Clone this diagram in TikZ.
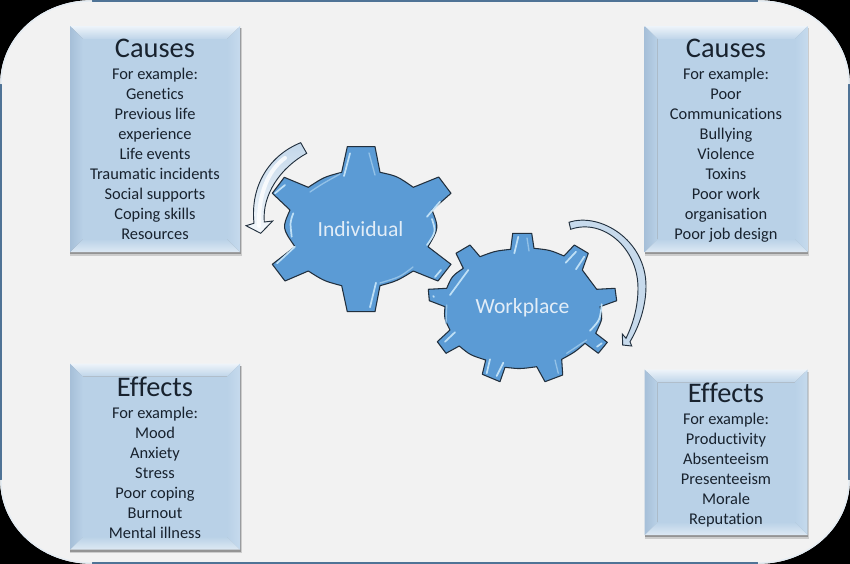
\documentclass[tikz,border=0pt]{standalone}
\usepackage{fontspec}
\setmainfont{Carlito}[Ligatures=NoCommon]
\definecolor{bgc}{HTML}{F2F2F2}
\definecolor{framec}{HTML}{4F7396}
\definecolor{arcc}{HTML}{E4ECF3}
\definecolor{gearc}{HTML}{5B9BD5}
\definecolor{gearline}{HTML}{22303E}
\definecolor{glint}{HTML}{BFE0F6}
\definecolor{boxc}{HTML}{B9D1E7}
\definecolor{boxl}{HTML}{A6BFD8}
\definecolor{boxr}{HTML}{C6DAED}
\definecolor{boxt}{HTML}{EEF4FA}
\definecolor{boxb}{HTML}{DDE9F4}
\definecolor{inkc}{HTML}{18222E}
\definecolor{gtext}{HTML}{E2EDF7}
\tikzset{
  frameline/.style={draw=framec,line width=1.4pt},
  framearc/.style={draw=arcc,line width=1pt},
  heading/.style={font=\fontsize{21.3}{25}\selectfont,text=inkc,anchor=center,inner sep=0pt},
  bodytext/.style={font=\fontsize{12.3}{15}\selectfont,text=inkc,align=center,anchor=north,inner sep=0pt},
  gearbody/.style={fill=gearc,draw=gearline,line width=0.8pt,line join=round},
  geartext/.style={font=\fontsize{16.2}{19}\selectfont,text=gtext,inner sep=0pt},
  glintline/.style={draw=glint,line width=1.3pt,line cap=round},
  softglint/.style={draw=glint!55!gearc,line width=1pt,line cap=round},
  blockarrow/.style={draw=gearline,line width=0.7pt,line join=miter},
}
\newcommand{\bevelbox}[4]{%
  \fill[black!20] (#1,#2+2) rectangle (#3+1.5,#4+3.5);
  \fill[black!42] (#1,#2+2) rectangle (#3+0.7,#4+2);
  \shade[top color=boxt,bottom color=boxc!92!white] (#1,#2) -- (#3,#2) -- (#3-13,#2+13) -- (#1+13,#2+13) -- cycle;
  \shade[top color=boxc,bottom color=boxb] (#1+13,#4-13) -- (#3-13,#4-13) -- (#3,#4) -- (#1,#4) -- cycle;
  \shade[left color=boxl,right color=boxc] (#1,#2) -- (#1+13,#2+13) -- (#1+13,#4-13) -- (#1,#4) -- cycle;
  \shade[left color=boxc,right color=boxr] (#3-13,#2+13) -- (#3,#2) -- (#3,#4) -- (#3-13,#4-13) -- cycle;
  \fill[boxc] (#1+13,#2+13) rectangle (#3-13,#4-13);
}
\begin{document}
\begin{tikzpicture}[x=0.75pt,y=-0.75pt]
\useasboundingbox (0,0) rectangle (850,564);
\fill[bgc] (0,0) rectangle (850,564);
% black page corners outside the rounded frame
\fill[black] (0,0) -- (92,0) .. controls (41.2,0) and (0,37) .. (0,84) -- cycle;
\fill[black] (850,0) -- (758,0) .. controls (808.8,0) and (850,37) .. (850,84) -- cycle;
\fill[black] (0,564) -- (92,564) .. controls (41.2,564) and (0,527) .. (0,480) -- cycle;
\fill[black] (850,564) -- (758,564) .. controls (808.8,564) and (850,527) .. (850,480) -- cycle;
% frame: blue straight sides, pale curved corners
\draw[frameline] (92,1) -- (758,1) (849,84) -- (849,480) (758,563) -- (92,563) (1,480) -- (1,84);
\draw[framearc] (92,1) .. controls (41.2,1) and (1,37) .. (1,84);
\draw[framearc] (758,1) .. controls (808.8,1) and (849,37) .. (849,84);
\draw[framearc] (92,563) .. controls (41.2,563) and (1,527) .. (1,480);
\draw[framearc] (758,563) .. controls (808.8,563) and (849,527) .. (849,480);

\bevelbox{70}{26}{240}{252}
\bevelbox{644.5}{26}{807.5}{252}
\bevelbox{70}{363.5}{240}{549.5}
\bevelbox{644.5}{369.5}{807.5}{535}

\node[heading] (causesL) at (155,48) {Causes};
\node[bodytext] (causesLbody) at (155,65.5) {\strut For example:\\Genetics\\Previous life\\experience\\Life events\\Traumatic incidents\\Social supports\\Coping skills\\Resources};
\node[heading] (causesR) at (726,48) {Causes};
\node[bodytext] (causesRbody) at (726,65.5) {\strut For example:\\Poor\\Communications\\Bullying\\Violence\\Toxins\\Poor work\\organisation\\Poor job design};
\node[heading] (effectsL) at (155,386.5) {Effects};
\node[bodytext] (effectsLbody) at (155,404.5) {\strut For example:\\Mood\\Anxiety\\Stress\\Poor coping\\Burnout\\Mental illness};
\node[heading] (effectsR) at (726,392.5) {Effects};
\node[bodytext] (effectsRbody) at (726,410.5) {\strut For example:\\Productivity\\Absenteeism\\Presenteeism\\Morale\\Reputation};

% Individual gear
\draw[gearbody] (341.7,172.3) -- (347.3,146.7) -- (375,146.7) -- (380,172.3)
  .. controls (397,176) .. (413.3,187.3) -- (438.7,177) -- (451,193.3) -- (432,210)
  .. controls (439,228) .. (428,246.7) -- (451,264.3) -- (438,281) -- (413.3,271)
  .. controls (397,281) .. (380,285.7) -- (375,311.7) -- (347.3,311.7) -- (341.7,285.7)
  .. controls (324,281) .. (308.3,271) -- (285,281) -- (272.3,264.3) -- (295,246.7)
  .. controls (282,228) .. (290,210) -- (272.3,193.3) -- (284.3,177.3) -- (308.3,187.3)
  .. controls (324,177) .. cycle;
\draw[glintline] (350,153.3) -- (344,176);
\draw[softglint] (369,153) -- (375,175);
\draw[glintline] (376,282.7) -- (370,307.3);
\draw[glintline] (293.3,213.3) .. controls (290,222) .. (291.7,236.7);
\draw[glintline] (295,246.7) -- (277,263.3);
\draw[glintline] (285,185) -- (275,193.3);
\draw[glintline] (440,201.7) -- (427,216.7);
\draw[glintline] (432,219) .. controls (436,232) .. (427,245);
\draw[glintline] (441,270) -- (435,277);
\draw[softglint] (310,192) .. controls (322,184) .. (340,174);
\draw[softglint] (413,267) .. controls (400,277) .. (380,283);
\node[geartext] (individual) at (360.5,229) {Individual};

% Workplace gear
\draw[gearbody] (510.7,249.3) -- (512.7,233.3) -- (531.7,233.3) -- (534,248.3)
  .. controls (550,250) .. (564,256) -- (574.3,245) -- (588.3,253.3) -- (582.3,270)
  .. controls (590,279) .. (596.7,289.3) -- (615,288.3) -- (616.7,300.7) -- (600,306.7)
  .. controls (603,318) .. (595.7,333.3) -- (607.3,342.3) -- (598.3,353.3) -- (585,343.3)
  .. controls (575,352) .. (561.7,359.3) -- (562.7,375) -- (545,381.7) -- (536.7,366.7)
  .. controls (520,369) .. (505,367.3) -- (500,381.7) -- (482.3,374.3) -- (485.7,360)
  .. controls (470,355) .. (459.3,346) -- (446,353.3) -- (437.3,341.7) -- (450,330)
  .. controls (444,318) .. (445,306.7) -- (429.3,300.7) -- (428.3,289.3) -- (446.7,288.3)
  .. controls (452,276) .. (463.3,268.3) -- (456,253.3) -- (470,245) -- (480,256.7)
  .. controls (495,251) .. cycle;
\draw[glintline] (518.3,236.7) -- (514.3,253.3);
\draw[softglint] (527,238) -- (529,251);
\draw[glintline] (576,251.7) -- (565.7,262.7);
\draw[glintline] (584.3,256.7) -- (576,269.3);
\draw[glintline] (601.7,304.3) .. controls (600,320) .. (590,330.7);
\draw[glintline] (601.7,343.3) -- (597,346.7);
\draw[softglint] (586.7,340) -- (566.7,353.3);
\draw[softglint] (555,360) -- (558.3,373.3);
\draw[glintline] (503.3,362.7) -- (496.7,376);
\draw[glintline] (490,359.3) -- (486.7,373.3);
\draw[glintline] (455,332.3) -- (445,341.7);
\draw[softglint] (446.7,305) -- (446,323.3);
\draw[glintline] (468.3,270) -- (450,295);
\draw[glintline] (433.3,296) -- (433.8,297);
\node[geartext] (workplace) at (522.5,307.5) {Workplace};

% Curved block arrows
\path[blockarrow,top color=boxc!85!white,bottom color=white!85!boxc]
  (300.7,142.7) .. controls (270,155) and (250,185) .. (254,223.3)
  -- (246,225.7) -- (260.7,233.3) -- (272.7,221) -- (264.3,222)
  .. controls (262,195) and (280,168) .. (306.7,153.3) -- cycle;
\draw[white,line width=3pt,opacity=0.8,line cap=round] (285,158) .. controls (268,170) and (258,195) .. (259,226);
\draw[blockarrow,fill=boxc!80!white]
  (569,222.3) .. controls (600,212) and (646,240) .. (646,286) .. controls (646,305) and (640,325) .. (630,341.7)
  -- (631.7,346) -- (622.7,345) -- (622.3,334) -- (626,338.3)
  .. controls (634,322) and (638,305) .. (638,288) .. controls (638,248) and (603,218) .. (570.7,229.3) -- cycle;
\end{tikzpicture}
\end{document}
